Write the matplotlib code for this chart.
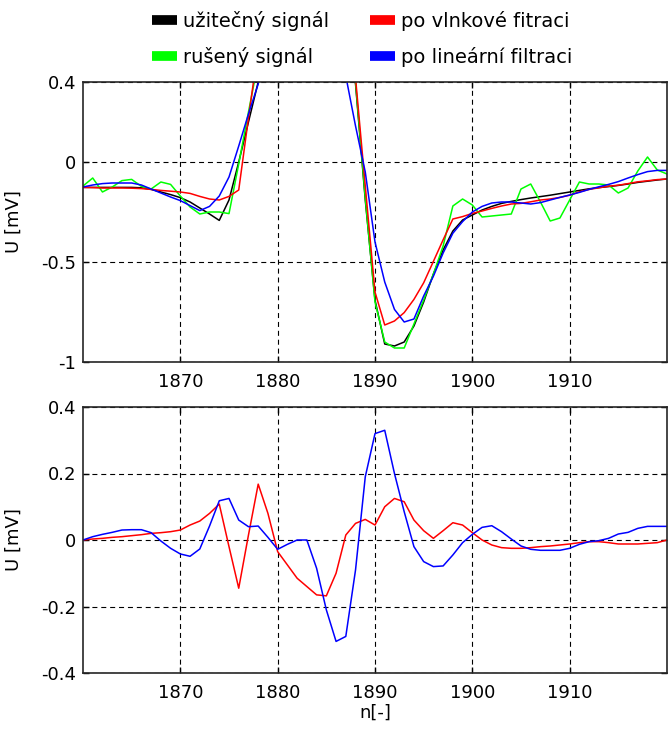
import matplotlib
matplotlib.use('Agg')
import matplotlib.pyplot as plt
import numpy as np
from matplotlib.lines import Line2D

# sample index
n_start, n_end = 1860, 1920
n = np.arange(n_start, n_end + 1)

# top panel: signals [mV]
useful = [-0.127, -0.127, -0.127, -0.127, -0.127, -0.127, -0.129, -0.137, -0.15, -0.163,
          -0.178, -0.2, -0.23, -0.26, -0.292, -0.19, 0.0, 0.2, 0.4, 0.62,
          0.9, 1.2, 1.45, 1.55, 1.5, 1.3, 1.0, 0.72, 0.39, -0.19,
          -0.69, -0.91, -0.92, -0.9, -0.82, -0.7, -0.56, -0.44, -0.345, -0.29,
          -0.265, -0.24, -0.222, -0.207, -0.197, -0.188, -0.18, -0.173, -0.166, -0.158,
          -0.15, -0.142, -0.134, -0.128, -0.123, -0.117, -0.11, -0.102, -0.096, -0.09,
          -0.085]
noisy = [-0.12, -0.08, -0.15, -0.125, -0.093, -0.087, -0.122, -0.135, -0.1, -0.112,
         -0.17, -0.225, -0.26, -0.25, -0.25, -0.258, -0.01, 0.25, 0.5, 0.65,
         0.9, 1.22, 1.43, 1.57, 1.48, 1.32, 0.98, 0.74, 0.4, -0.18,
         -0.7, -0.9, -0.93, -0.93, -0.81, -0.69, -0.56, -0.42, -0.22, -0.185,
         -0.215, -0.275, -0.27, -0.265, -0.26, -0.135, -0.11, -0.2, -0.295, -0.28,
         -0.19, -0.1, -0.11, -0.11, -0.115, -0.155, -0.13, -0.045, 0.025, -0.04,
         -0.06]
wavelet = [-0.127, -0.128, -0.13, -0.13, -0.13, -0.131, -0.133, -0.137, -0.142, -0.146,
           -0.15, -0.157, -0.172, -0.185, -0.19, -0.172, -0.14, 0.22, 0.57, 0.75,
           0.87, 1.12, 1.33, 1.41, 1.33, 1.12, 0.89, 0.73, 0.42, -0.12,
           -0.65, -0.815, -0.795, -0.753, -0.687, -0.604, -0.497, -0.389, -0.285, -0.273,
           -0.257, -0.245, -0.232, -0.22, -0.21, -0.207, -0.199, -0.19, -0.185, -0.177,
           -0.166, -0.149, -0.137, -0.129, -0.121, -0.116, -0.108, -0.099, -0.094, -0.088,
           -0.085]
linear = [-0.125, -0.115, -0.108, -0.105, -0.105, -0.105, -0.115, -0.135, -0.155, -0.175,
          -0.193, -0.218, -0.243, -0.222, -0.17, -0.075, 0.08, 0.24, 0.39, 0.63,
          0.87, 1.19, 1.45, 1.55, 1.41, 1.1, 0.7, 0.43, 0.18, -0.05,
          -0.4, -0.6, -0.737, -0.8, -0.785, -0.67, -0.571, -0.455, -0.356, -0.298,
          -0.25, -0.222, -0.205, -0.2, -0.2, -0.205, -0.21, -0.203, -0.19, -0.177,
          -0.165, -0.152, -0.137, -0.124, -0.112, -0.098, -0.08, -0.063, -0.048, -0.042,
          -0.042]

# bottom panel: errors [mV]
err_wavelet = [0.0, 0.003, 0.005, 0.008, 0.01, 0.013, 0.016, 0.02, 0.022, 0.025,
               0.03, 0.045, 0.057, 0.08, 0.108, -0.02, -0.145, 0.015, 0.168, 0.08,
               -0.035, -0.075, -0.115, -0.14, -0.165, -0.168, -0.1, 0.015, 0.05, 0.062,
               0.045, 0.1, 0.125, 0.115, 0.06, 0.028, 0.005, 0.028, 0.052, 0.045,
               0.022, 0.0, -0.015, -0.023, -0.025, -0.025, -0.023, -0.02, -0.018, -0.015,
               -0.012, -0.008, -0.005, -0.005, -0.008, -0.012, -0.012, -0.012, -0.01, -0.008,
               0.0]
err_linear = [0.0, 0.01, 0.017, 0.023, 0.03, 0.031, 0.031, 0.022, -0.003, -0.025,
              -0.042, -0.049, -0.027, 0.042, 0.118, 0.125, 0.06, 0.04, 0.042, 0.008,
              -0.028, -0.013, 0.0, 0.0, -0.085, -0.21, -0.305, -0.29, -0.09, 0.19,
              0.32, 0.33, 0.2, 0.085, -0.02, -0.065, -0.08, -0.078, -0.045, -0.008,
              0.017, 0.038, 0.043, 0.025, 0.003, -0.018, -0.028, -0.031, -0.031, -0.031,
              -0.025, -0.013, -0.005, -0.002, 0.005, 0.018, 0.023, 0.035, 0.041, 0.041,
              0.041]

labels = ['užitečný signál', 'rušený signál', 'po vlnkové fitraci', 'po lineární filtraci']
colors = ['#000000', '#00ff00', '#ff0000', '#0000ff']

x_ticks = [1870, 1880, 1890, 1900, 1910]
x_tick_labels = ['1870', '1880', '1890', '1900', '1910']
top_yticks = [-1, -0.5, 0, 0.4]
top_ytick_labels = ['-1', '-0.5', '0', '0.4']
bot_yticks = [-0.4, -0.2, 0, 0.2, 0.4]
bot_ytick_labels = ['-0.4', '-0.2', '0', '0.2', '0.4']

plt.rcParams['font.family'] = ['DejaVu Sans']
fs = 13
lfs = 14

W, H = 672, 731
fig = plt.figure(figsize=(W / 100, H / 100), dpi=100)
ax1 = fig.add_axes([83 / W, 1 - 362 / H, 584 / W, 280 / H])
ax2 = fig.add_axes([83 / W, 1 - 673 / H, 584 / W, 266 / H])

lw = 1.1
ax1.plot(n, useful, color=colors[0], lw=lw)
ax1.plot(n, noisy, color=colors[1], lw=lw)
ax1.plot(n, wavelet, color=colors[2], lw=lw)
ax1.plot(n, linear, color=colors[3], lw=lw)

ax2.plot(n, err_wavelet, color=colors[2], lw=lw)
ax2.plot(n, err_linear, color=colors[3], lw=lw)

for ax, yt, ytl, ylim in [(ax1, top_yticks, top_ytick_labels, (-1, 0.4)),
                          (ax2, bot_yticks, bot_ytick_labels, (-0.4, 0.4))]:
    ax.set_xlim(n_start, n_end)
    ax.set_ylim(*ylim)
    ax.set_xticks(x_ticks)
    ax.set_xticklabels(x_tick_labels)
    ax.set_yticks(yt)
    ax.set_yticklabels(ytl)
    ax.grid(True, color='black', linestyle=(0, (4.5, 3.5)), lw=0.8)
    ax.tick_params(direction='in', top=True, right=True, length=4, width=1,
                   labelsize=fs, colors='black')
    ax.tick_params(axis='x', pad=8)
    ax.tick_params(axis='y', pad=5)
    for sp in ax.spines.values():
        sp.set_linewidth(1.2)
        sp.set_color('#262626')
    ax.set_ylabel('U [mV]', fontsize=fs)
    ax.yaxis.set_label_coords(-0.104, 0.5)

ax2.set_xlabel('n[-]', fontsize=fs, labelpad=1)

handles = [Line2D([], [], color=c, lw=7, solid_capstyle='butt') for c in colors]
leg_kw = dict(loc='center left', frameon=False, fontsize=lfs, handlelength=1.29,
              handletextpad=0.31, labelspacing=0.85, borderpad=0, borderaxespad=0)
fig.legend(handles[:2], labels[:2], bbox_to_anchor=(152 / W, 1 - 39 / H), **leg_kw)
fig.legend(handles[2:], labels[2:], bbox_to_anchor=(370 / W, 1 - 39 / H), **leg_kw)

fig.savefig('out.png', dpi=100)
